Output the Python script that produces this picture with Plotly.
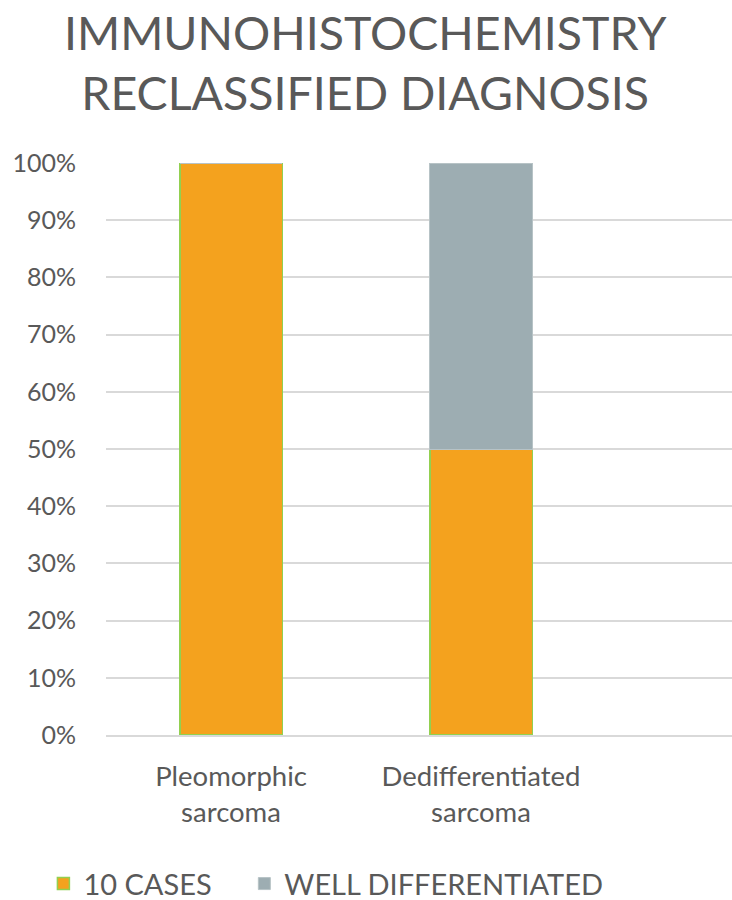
import plotly.graph_objects as go

categories = ["Pleomorphic<br>sarcoma", "Dedifferentiated<br>sarcoma"]
cases_10 = [1.0, 0.5]
well_diff = [0.0, 0.5]
y_ticks = [i / 10 for i in range(11)]
y_tick_labels = [f"{i*10}%" for i in range(11)]
title_text = "IMMUNOHISTOCHEMISTRY<br>RECLASSIFIED DIAGNOSIS"

FONT = "Lato, 'Open Sans', sans-serif"
TXT = "#595959"

fig = go.Figure()
fig.add_trace(go.Bar(
    x=categories, y=cases_10, name="10 CASES",
    marker=dict(color="#F4A21E", line=dict(color="#92D050", width=1.5)),
    width=0.41, legend="legend", showlegend=True,
))
fig.add_trace(go.Bar(
    x=categories, y=well_diff, name="WELL DIFFERENTIATED",
    marker=dict(color="#9DADB2", line=dict(color="#B7C3C6", width=1)),
    width=0.41, legend="legend2", showlegend=True,
))

fig.add_annotation(
    text=title_text, xref="paper", yref="paper",
    x=(365 - 106) / 626, y=(735 - 62) / 572,
    xanchor="center", yanchor="middle", showarrow=False,
    font=dict(family=FONT, size=46.5, color=TXT),
)

legend_common = dict(
    orientation="h", xanchor="left", y=-0.26, yanchor="middle",
    font=dict(size=29, color=TXT), bgcolor="rgba(0,0,0,0)", visible=True,
)

fig.update_layout(
    barmode="stack",
    showlegend=True,
    width=732, height=900,
    margin=dict(l=106, r=0, t=163, b=165, autoexpand=False),
    paper_bgcolor="white", plot_bgcolor="white",
    font=dict(family=FONT, color=TXT, size=22),
    xaxis=dict(
        range=[-0.5, 2.004], showgrid=False, automargin=False,
        showline=True, linecolor="#D9D9D9", linewidth=2,
        tickfont=dict(size=27.5, color=TXT), ticks="",
        ticklabelstandoff=16,
    ),
    yaxis=dict(
        range=[0, 1], tickvals=y_ticks, ticktext=y_tick_labels,
        showgrid=True, gridcolor="#D9D9D9", gridwidth=1.5, automargin=False,
        zeroline=False, showline=False, ticks="",
        tickfont=dict(size=25, color=TXT), ticklabelstandoff=29,
    ),
    legend=dict(x=-0.1, **legend_common),
    legend2=dict(x=0.221, **legend_common),
    bargap=0.59,
)

fig.write_html("out.html")
